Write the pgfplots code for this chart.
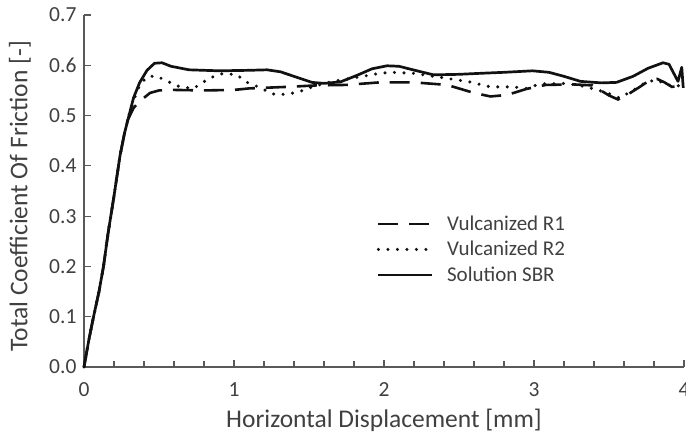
\documentclass[border=0pt]{standalone}
\usepackage{pgfplots}
\pgfplotsset{compat=1.18}
\usepackage{fontspec}
\setmainfont{Carlito}
\definecolor{txt}{HTML}{404040}
\definecolor{axln}{HTML}{595959}
\definecolor{crv}{HTML}{111111}

% Friction coefficient traces (x in mm, y = total COF)
\pgfplotstableread{
x y
0 0
0.03 0.05
0.06 0.095
0.10 0.15
0.13 0.20
0.16 0.265
0.20 0.34
0.24 0.42
0.27 0.465
0.29 0.49
0.33 0.515
0.37 0.528
0.44 0.545
0.50 0.550
0.60 0.551
0.80 0.550
1.00 0.551
1.10 0.554
1.35 0.557
1.55 0.560
1.75 0.561
1.97 0.566
2.20 0.566
2.42 0.561
2.60 0.545
2.71 0.538
2.82 0.541
2.95 0.553
3.08 0.561
3.26 0.562
3.39 0.560
3.50 0.540
3.56 0.532
3.62 0.541
3.70 0.556
3.76 0.568
3.82 0.573
3.87 0.566
3.92 0.557
4.00 0.561
}\vulcA

\pgfplotstableread{
x y
0 0
0.03 0.05
0.06 0.095
0.10 0.15
0.13 0.20
0.16 0.265
0.20 0.34
0.24 0.42
0.27 0.465
0.30 0.50
0.33 0.53
0.37 0.56
0.42 0.577
0.48 0.579
0.55 0.569
0.64 0.557
0.73 0.554
0.84 0.575
0.93 0.584
1.02 0.581
1.08 0.567
1.17 0.556
1.26 0.543
1.35 0.542
1.44 0.548
1.53 0.558
1.66 0.568
1.86 0.578
1.97 0.584
2.05 0.586
2.20 0.584
2.42 0.574
2.57 0.567
2.71 0.557
2.86 0.557
2.95 0.554
3.04 0.563
3.22 0.564
3.35 0.557
3.49 0.545
3.57 0.535
3.66 0.550
3.75 0.567
3.82 0.571
3.88 0.562
3.95 0.557
4.00 0.566
}\vulcB

\pgfplotstableread{
x y
0 0
0.03 0.05
0.06 0.095
0.10 0.15
0.13 0.20
0.16 0.265
0.20 0.34
0.24 0.42
0.27 0.465
0.30 0.50
0.33 0.535
0.37 0.565
0.42 0.590
0.47 0.604
0.52 0.605
0.58 0.598
0.70 0.591
0.90 0.589
1.10 0.590
1.22 0.591
1.31 0.587
1.42 0.576
1.52 0.566
1.60 0.564
1.71 0.567
1.82 0.580
1.92 0.593
2.02 0.599
2.10 0.598
2.22 0.589
2.33 0.581
2.50 0.582
2.64 0.584
2.80 0.586
2.99 0.589
3.10 0.586
3.20 0.578
3.31 0.568
3.45 0.565
3.55 0.566
3.66 0.578
3.76 0.594
3.86 0.605
3.90 0.602
3.96 0.568
3.985 0.596
3.995 0.555
}\sbr

\begin{document}
\begin{tikzpicture}
\begin{axis}[
  width=600pt, height=352pt, scale only axis,
  xmin=0, xmax=4, ymin=0, ymax=0.7,
  axis lines=left,
  axis line style={axln, line width=1.4pt, -},
  xtick={0,1,2,3,4},
  ytick={0,0.1,...,0.7},
  minor x tick num=4,
  tick align=inside,
  tick style={axln, line width=1.2pt},
  major tick length=7pt, minor tick length=6pt,
  /pgf/number format/assume math mode=true,
  y tick label style={/pgf/number format/fixed, /pgf/number format/fixed zerofill,
    /pgf/number format/precision=1, xshift=-4pt},
  tick label style={font=\fontsize{21.5}{25}\selectfont, text=txt},
  x tick label style={anchor=base, yshift=-30pt},
  xlabel={Horizontal Displacement [mm]},
  ylabel={Total Coefficient Of Friction [-]},
  label style={font=\fontsize{25.5}{30}\selectfont, text=txt},
  xlabel style={at={(axis description cs:0.5,0)}, anchor=base, yshift=-61pt},
  ylabel style={at={(axis description cs:-0.107,0.485)}, anchor=center},
  legend style={at={(axis cs:1.95,0.305)}, anchor=north west, draw=none, fill=none,
    font=\fontsize{21}{25}\selectfont, text=txt, row sep=5.5pt, inner sep=0pt,
    /tikz/every odd column/.append style={column sep=11pt}},
  legend cell align=left,
  legend image code/.code={\draw[#1] (0pt,0pt) -- (54pt,0pt);},
  clip=false,
]
\addplot[crv, line width=2.6pt, dash pattern=on 20pt off 11pt] table[x=x,y=y] {\vulcA};
\addlegendentry{Vulcanized R1}
\addplot[crv, line width=3.4pt, line cap=round, dash pattern=on 0pt off 9.5pt] table[x=x,y=y] {\vulcB};
\addlegendentry{Vulcanized R2}
\addplot[crv, line width=2.7pt, line join=round] table[x=x,y=y] {\sbr};
\addlegendentry{Solution SBR}
\end{axis}
\pgfresetboundingbox
\path[use as bounding box] (-84pt,-69pt) rectangle (602pt,367pt);
\end{tikzpicture}
\end{document}
